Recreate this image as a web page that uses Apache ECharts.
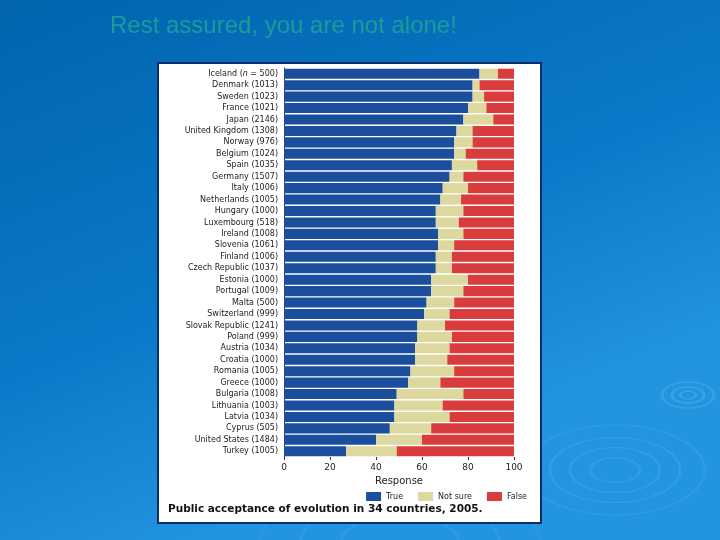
<!DOCTYPE html>
<html>
<head>
<meta charset="utf-8">
<script src="https://cdn.jsdelivr.net/npm/echarts@6/dist/echarts.min.js"></script>
<style>
  html, body { margin: 0; padding: 0; }
  #chart { width: 720px; height: 540px; }
</style>
</head>
<body>
<div id="chart"></div>
<script>
const countries = [
  'Iceland (n = 500)', 'Denmark (1013)', 'Sweden (1023)', 'France (1021)', 'Japan (2146)',
  'United Kingdom (1308)', 'Norway (976)', 'Belgium (1024)', 'Spain (1035)', 'Germany (1507)',
  'Italy (1006)', 'Netherlands (1005)', 'Hungary (1000)', 'Luxembourg (518)', 'Ireland (1008)',
  'Slovenia (1061)', 'Finland (1006)', 'Czech Republic (1037)', 'Estonia (1000)', 'Portugal (1009)',
  'Malta (500)', 'Switzerland (999)', 'Slovak Republic (1241)', 'Poland (999)', 'Austria (1034)',
  'Croatia (1000)', 'Romania (1005)', 'Greece (1000)', 'Bulgaria (1008)', 'Lithuania (1003)',
  'Latvia (1034)', 'Cyprus (505)', 'United States (1484)', 'Turkey (1005)'
];
const trueVals = [85, 82, 82, 80, 78, 75, 74, 74, 73, 72, 69, 68, 66, 66, 67, 67, 66, 66, 64, 64, 62, 61, 58, 58, 57, 57, 55, 54, 49, 48, 48, 46, 40, 27];
const notSureVals = [8, 3, 5, 8, 13, 7, 8, 5, 11, 6, 11, 9, 12, 10, 11, 7, 7, 7, 16, 14, 12, 11, 12, 15, 15, 14, 19, 14, 29, 21, 24, 18, 20, 22];
const falseVals = [7, 15, 13, 12, 9, 18, 18, 21, 16, 22, 20, 23, 22, 24, 22, 26, 27, 27, 20, 22, 26, 28, 30, 27, 28, 29, 26, 32, 22, 31, 28, 36, 40, 51];
const xTicks = [0, 20, 40, 60, 80, 100];

const chart = echarts.init(document.getElementById('chart'));

// faint ripple rings in the slide background
const ripple = (cx, cy, r, op) => ({
  type: 'circle',
  x: cx, y: cy, scaleY: 0.5, z: -2,
  shape: { cx: 0, cy: 0, r: r },
  style: { fill: 'none', stroke: 'rgba(140,205,255,' + op + ')', lineWidth: 3 },
  silent: true
});

chart.setOption({
  animation: false,
  backgroundColor: {
    type: 'linear', x: 0, y: 0, x2: 0.3, y2: 1,
    colorStops: [
      { offset: 0, color: '#0064ae' },
      { offset: 0.6, color: '#0a78c8' },
      { offset: 1, color: '#2394e0' }
    ]
  },
  title: {
    text: 'Rest assured, you are not alone!',
    left: 105, top: 9,
    textStyle: { color: '#1b9c98', fontSize: 24, fontWeight: 'normal', fontFamily: 'Liberation Sans' }
  },
  graphic: [
    ripple(688, 395, 8, 0.25), ripple(688, 395, 16, 0.25), ripple(688, 395, 26, 0.2),
    ripple(615, 470, 25, 0.15), ripple(615, 470, 45, 0.15), ripple(615, 470, 65, 0.15), ripple(615, 470, 90, 0.12),
    ripple(400, 545, 60, 0.12), ripple(400, 545, 100, 0.1), ripple(400, 545, 140, 0.08),
    {
      type: 'rect', z: -1,
      shape: { x: 158, y: 63, width: 383, height: 460 },
      style: { fill: '#ffffff', stroke: '#0c2c6c', lineWidth: 2 }
    },
    {
      type: 'text', left: 168, top: 504, z: 10,
      style: {
        text: 'Public acceptance of evolution in 34 countries, 2005.',
        fill: '#111', fontSize: 10.5, fontWeight: 'bold', fontFamily: 'DejaVu Sans'
      }
    }
  ],
  legend: {
    right: 188, top: 487,
    itemWidth: 15, itemHeight: 9, itemGap: 15,
    icon: 'rect',
    textStyle: { fontSize: 8, color: '#222', fontFamily: 'DejaVu Sans' },
    data: ['True', 'Not sure', 'False']
  },
  grid: { left: 284, width: 230, top: 68, height: 389 },
  xAxis: {
    type: 'value', min: 0, max: 100, interval: 20,
    name: 'Response', nameLocation: 'middle', nameGap: 18,
    nameTextStyle: { fontSize: 10, color: '#222', fontFamily: 'DejaVu Sans' },
    axisLine: { show: false },
    axisTick: { show: true, length: 3, lineStyle: { color: '#333' } },
    axisLabel: {
      fontSize: 9, color: '#222', margin: 6, fontFamily: 'DejaVu Sans',
      formatter: v => xTicks.includes(v) ? String(v) : ''
    },
    splitLine: { show: false }
  },
  yAxis: {
    type: 'category', inverse: true, data: countries,
    axisLine: { show: true, lineStyle: { color: '#333', width: 1 } },
    axisTick: { show: false },
    axisLabel: {
      fontSize: 8, color: '#222', margin: 6, fontFamily: 'DejaVu Sans',
      formatter: v => v.startsWith('Iceland') ? 'Iceland ({i|n} = 500)' : v,
      rich: { i: { fontSize: 8, fontStyle: 'italic', color: '#222', fontFamily: 'DejaVu Sans' } }
    }
  },
  series: [
    { name: 'True', type: 'bar', stack: 'a', data: trueVals, barCategoryGap: '12%', itemStyle: { color: '#1b4f9e' } },
    { name: 'Not sure', type: 'bar', stack: 'a', data: notSureVals, itemStyle: { color: '#ddd89e' } },
    { name: 'False', type: 'bar', stack: 'a', data: falseVals, itemStyle: { color: '#d93c3c' } }
  ]
});
</script>
</body>
</html>
